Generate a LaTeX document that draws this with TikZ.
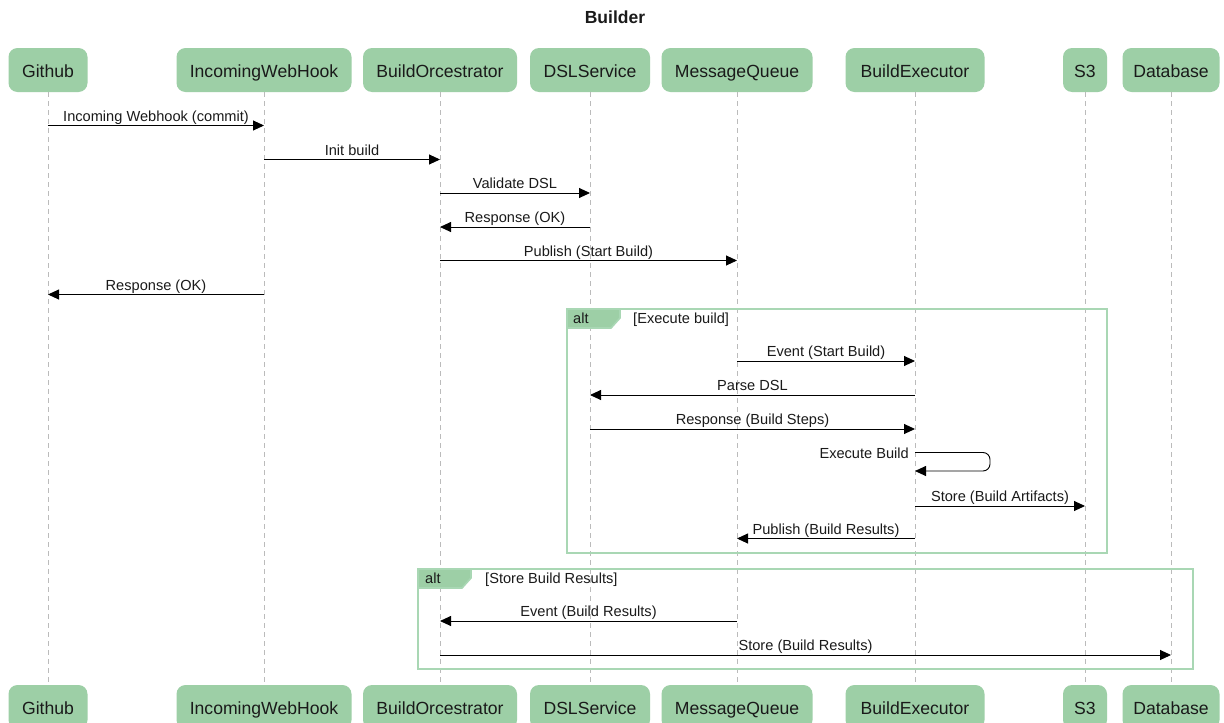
\documentclass[tikz,border=0pt]{standalone}
\usepackage{fontspec}
\setmainfont{Liberation Sans}
\usetikzlibrary{arrows.meta}
\definecolor{actorfill}{HTML}{9DCFA6}
\definecolor{framecol}{HTML}{A9D7B4}
\definecolor{lifecol}{HTML}{BBBBBB}
\definecolor{txt}{HTML}{1A1A1A}
\begin{document}
\begin{tikzpicture}[x=1pt,y=-1pt,
  actor/.style={draw=none,fill=actorfill,rounded corners=9pt,minimum height=44pt,inner sep=0pt,text height=16pt,text depth=2pt,font=\fontsize{17.6}{20}\selectfont,text=txt},
  life/.style={lifecol,dash pattern=on 5pt off 4pt,line width=0.9pt},
  msg/.style={line width=0.9pt,-{Triangle[length=11pt,width=10pt]}},
  lbl/.style={font=\fontsize{14.6}{17}\selectfont,text=txt,inner sep=0pt,anchor=base,yshift=4.5pt},
  frametxt/.style={font=\fontsize{14.6}{17}\selectfont,text=txt,inner sep=0pt,anchor=base west},
  frame/.style={draw=framecol,line width=1.6pt},
]
\useasboundingbox (0,0) rectangle (1224,723);
\fill[white] (0,0) rectangle (1224,723);

\node[font=\bfseries\fontsize{17.5}{20}\selectfont,text=txt] (title) at (615,17) {Builder};

% actors top
\node[actor,minimum width=79pt]  (gh)  at (48,70)   {Github};
\node[actor,minimum width=175pt] (iwh) at (264,70)  {IncomingWebHook};
\node[actor,minimum width=154pt] (bo)  at (440,70)  {BuildOrcestrator};
\node[actor,minimum width=120pt] (dsl) at (590,70)  {DSLService};
\node[actor,minimum width=151pt] (mq)  at (737,70)  {MessageQueue};
\node[actor,minimum width=139pt] (be)  at (915,70)  {BuildExecutor};
\node[actor,minimum width=44pt]  (s3)  at (1085,70) {S3};
\node[actor,minimum width=97pt]  (db)  at (1171,70) {Database};
% actors bottom
\node[actor,minimum width=79pt]  (gh2)  at (48,707)   {Github};
\node[actor,minimum width=175pt] (iwh2) at (264,707)  {IncomingWebHook};
\node[actor,minimum width=154pt] (bo2)  at (440,707)  {BuildOrcestrator};
\node[actor,minimum width=120pt] (dsl2) at (590,707)  {DSLService};
\node[actor,minimum width=151pt] (mq2)  at (737,707)  {MessageQueue};
\node[actor,minimum width=139pt] (be2)  at (915,707)  {BuildExecutor};
\node[actor,minimum width=44pt]  (s32)  at (1085,707) {S3};
\node[actor,minimum width=97pt]  (db2)  at (1171,707) {Database};

% lifelines
\foreach \a in {gh,iwh,bo,dsl,mq,be,s3,db}
  \draw[life] (\a.south) -- (\a2.north);

% frames
\draw[frame] (567,309) rectangle (1107,553);
\filldraw[fill=actorfill,draw=framecol,line width=1.6pt] (567,309) -- (620,309) -- (620,318) -- (611,328) -- (567,328) -- cycle;
\node[frametxt] (alt1) at (573,323.5) {alt};
\node[frametxt] (g1) at (633,323.5) {[Execute build]};

\draw[frame] (418,569) rectangle (1193,669);
\filldraw[fill=actorfill,draw=framecol,line width=1.6pt] (418,569) -- (471,569) -- (471,578) -- (462,588) -- (418,588) -- cycle;
\node[frametxt] (alt2) at (425,583.5) {alt};
\node[frametxt] (g2) at (485,583.5) {[Store Build Results]};

% message levels
\coordinate (y1) at (0,125.5);
\coordinate (y2) at (0,159.5);
\coordinate (y3) at (0,193);
\coordinate (y4) at (0,227);
\coordinate (y5) at (0,260.5);
\coordinate (y6) at (0,294.5);
\coordinate (y7) at (0,361);
\coordinate (y8) at (0,395);
\coordinate (y9) at (0,429);
\coordinate (y10a) at (0,452.5);
\coordinate (y10b) at (0,471);
\coordinate (y11) at (0,506);
\coordinate (y12) at (0,538.5);
\coordinate (y13) at (0,621);
\coordinate (y14) at (0,655);
\coordinate (loopx) at (990,0);

\draw[msg] (gh |- y1) -- node[lbl] {Incoming Webhook (commit)} (iwh |- y1);
\draw[msg] (iwh |- y2) -- node[lbl] {Init build} (bo |- y2);
\draw[msg] (bo |- y3) -- node[lbl] {Validate DSL} (dsl |- y3);
\draw[msg] (dsl |- y4) -- node[lbl] {Response (OK)} (bo |- y4);
\draw[msg] (bo |- y5) -- node[lbl] {Publish (Start Build)} (mq |- y5);
\draw[msg] (iwh |- y6) -- node[lbl] {Response (OK)} (gh |- y6);

\draw[msg] (mq |- y7) -- node[lbl] {Event (Start Build)} (be |- y7);
\draw[msg] (be |- y8) -- node[lbl] {Parse DSL} (dsl |- y8);
\draw[msg] (dsl |- y9) -- node[lbl] {Response (Build Steps)} (be |- y9);
\draw[msg,rounded corners=7pt] (be |- y10a) -- (loopx |- y10a) -- (loopx |- y10b) -- (be |- y10b);
\node[font=\fontsize{14.6}{17}\selectfont,text=txt,inner sep=0pt,anchor=base east,xshift=-6pt,yshift=-5.5pt] (selflbl) at (be |- y10a) {Execute Build};
\draw[msg] (be |- y11) -- node[lbl] {Store (Build Artifacts)} (s3 |- y11);
\draw[msg] (be |- y12) -- node[lbl] {Publish (Build Results)} (mq |- y12);

\draw[msg] (mq |- y13) -- node[lbl] {Event (Build Results)} (bo |- y13);
\draw[msg] (bo |- y14) -- node[lbl] {Store (Build Results)} (db |- y14);
\end{tikzpicture}
\end{document}
